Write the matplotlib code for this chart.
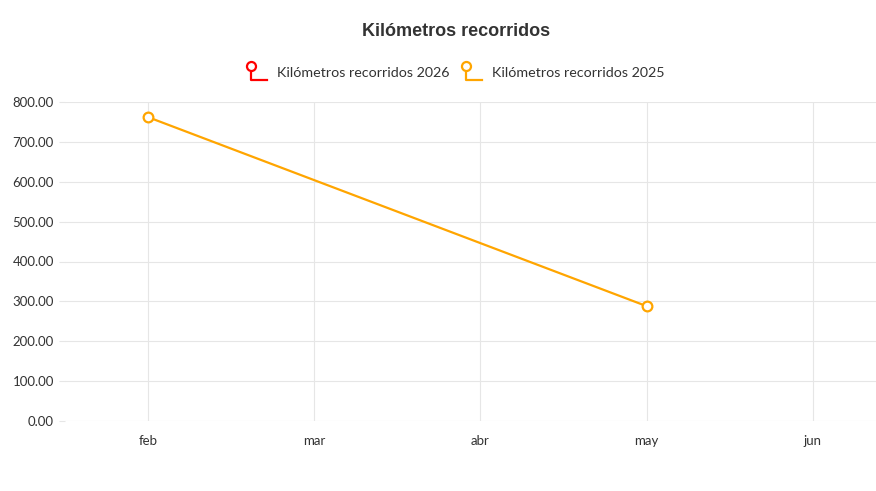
import numpy as np
import matplotlib.pyplot as plt
from matplotlib.lines import Line2D

months = ["feb", "mar", "abr", "may", "jun"]
km_2025_months = ["feb", "may"]
km_2025 = [762.0, 288.0]
km_2026_months = []
km_2026 = []

c2025 = "#FFA500"
c2026 = "#FF0000"
grid_c = "#e6e6e6"
txt_c = "#333333"

plt.rcParams['font.family'] = ['Lato', 'DejaVu Sans']

fig = plt.figure(figsize=(8.76, 4.91), dpi=100)
ax = fig.add_axes([65 / 876, 1 - 421 / 491, 1 - 65 / 876, (421 - 102) / 491])

xpos = {m: i for i, m in enumerate(months)}
ax.plot([xpos[m] for m in km_2026_months], km_2026, color=c2026, lw=1.6,
        marker="o", ms=7, mfc="white", mec=c2026, mew=1.6)
ax.plot([xpos[m] for m in km_2025_months], km_2025, color=c2025, lw=1.6,
        marker="o", ms=7, mfc="white", mec=c2025, mew=1.6, zorder=3)

ax.set_xlim(-0.5, 4.38)
ax.set_ylim(0, 800)
ax.set_xticks(range(len(months)))
ax.set_xticklabels(months)
ax.set_yticks(np.arange(0, 801, 100))
ax.set_yticklabels([f"{v:.2f}" for v in np.arange(0, 801, 100)])
ax.grid(True, color=grid_c, lw=0.8)
ax.set_axisbelow(True)
for s in ax.spines.values():
    s.set_visible(False)
ax.tick_params(axis="x", length=0, pad=10, labelsize=9.5, labelcolor=txt_c)
ax.tick_params(axis="y", length=4, color=grid_c, width=0.8, pad=4,
               labelsize=9.5, labelcolor=txt_c)

fig.text(456 / 876, 1 - 31 / 491, "Kilómetros recorridos", ha="center", va="center",
         fontsize=13, fontweight="bold", color=txt_c, family=["Liberation Sans"])

# legend icons drawn in figure pixels
def icon(x0, color):
    yb = 1 - 80 / 491
    yc = 1 - 66 / 491
    fig.add_artist(Line2D([x0 / 876, x0 / 876, (x0 + 16) / 876], [yc, yb, yb],
                          color=color, lw=1.6, transform=fig.transFigure))
    fig.add_artist(Line2D([x0 / 876], [yc], marker="o", ms=6.5, mfc="white", mec=color,
                          mew=1.6, transform=fig.transFigure))

icon(251, c2026)
fig.text(277 / 876, 1 - 73 / 491, "Kilómetros recorridos 2026", ha="left", va="center",
         fontsize=10.3, color=txt_c)
icon(466, c2025)
fig.text(492 / 876, 1 - 73 / 491, "Kilómetros recorridos 2025", ha="left", va="center",
         fontsize=10.3, color=txt_c)

plt.savefig("out.png")
